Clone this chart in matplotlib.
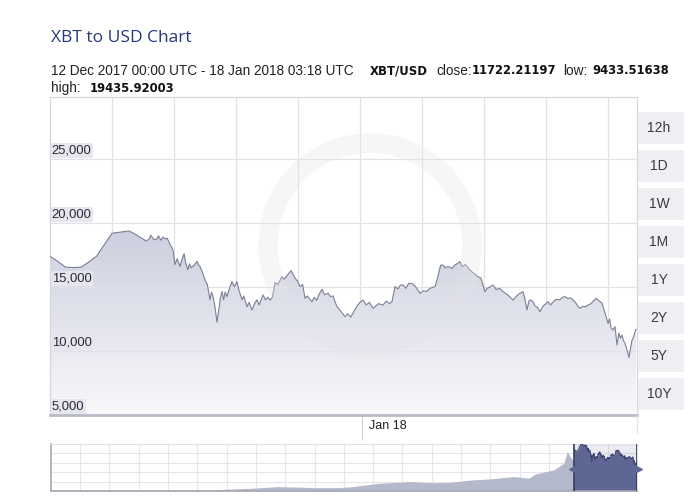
import matplotlib.pyplot as plt
from matplotlib.patches import Rectangle, Ellipse
from matplotlib.lines import Line2D
import numpy as np

# main series: days since 12 Dec 2017 00:00 UTC, XBT/USD price
days = [0.0, 0.5, 1.0, 1.5, 2.0, 2.5, 3.0, 3.5, 4.0, 4.6, 5.1, 5.6, 6.2, 6.4, 6.5, 6.7,
        6.9, 7.0, 7.15, 7.3, 7.45, 7.55, 7.7, 7.87, 7.95, 8.06, 8.2, 8.3, 8.39, 8.5, 8.65,
        8.75, 8.9, 9.0, 9.1, 9.3, 9.48, 9.6, 9.68, 9.85, 10.0, 10.15, 10.32, 10.42, 10.52,
        10.65, 10.77, 10.9, 11.0, 11.1, 11.2, 11.3, 11.42, 11.55, 11.74, 11.9, 12.06, 12.2,
        12.39, 12.5, 12.71, 12.85, 13.03, 13.2, 13.35, 13.5, 13.74, 13.9, 14.05, 14.19,
        14.35, 14.52, 14.7, 14.97, 15.1, 15.3, 15.55, 15.7, 15.81, 15.95, 16.13, 16.3,
        16.45, 16.6, 16.9, 17.05, 17.2, 17.35, 17.55, 17.7, 17.94, 18.1, 18.26, 18.4,
        18.52, 18.7, 19.03, 19.2, 19.4, 19.55, 19.8, 20.0, 20.19, 20.4, 20.6, 20.84, 21.0,
        21.2, 21.48, 21.7, 21.9, 22.06, 22.26, 22.45, 22.6, 22.77, 22.95, 23.15, 23.42,
        23.6, 23.87, 24.1, 24.3, 24.52, 24.84, 25.0, 25.2, 25.35, 25.5, 25.7, 25.94, 26.1,
        26.3, 26.45, 26.6, 26.8, 27.1, 27.3, 27.61, 27.8, 28.06, 28.2, 28.4, 28.58, 28.8,
        29.0, 29.23, 29.4, 29.6, 29.87, 30.1, 30.3, 30.52, 30.65, 30.77, 30.9, 31.0, 31.16,
        31.3, 31.45, 31.61, 31.8, 32.0, 32.13, 32.3, 32.5, 32.71, 32.9, 33.05, 33.23, 33.4,
        33.6, 33.74, 33.9, 34.05, 34.19, 34.4, 34.55, 34.71, 34.9, 35.05, 35.23, 35.4,
        35.61, 35.8, 36.0, 36.1, 36.2, 36.32, 36.45, 36.58, 36.7, 36.8, 36.9, 37.0, 37.1,
        37.2, 37.35, 37.45, 37.55, 37.65, 37.72, 37.8]
prices = [17400, 17000, 16550, 16520, 16540, 16950, 17400, 18300, 19200, 19300, 19380,
          19050, 18600, 18750, 19050, 18700, 18750, 19000, 18650, 18900, 18750, 18820,
          18450, 18050, 17800, 16750, 17200, 16900, 16600, 17100, 17600, 16900, 16350,
          16800, 16500, 16700, 17000, 16700, 16600, 16100, 15550, 15200, 14000, 14600,
          14250, 13400, 12250, 13300, 14200, 14650, 14000, 14600, 14250, 14800, 15420,
          15000, 15420, 14700, 14000, 14300, 13450, 13800, 13200, 13700, 14000, 13600,
          14380, 14000, 14200, 13980, 14200, 15340, 15200, 15810, 15600, 15900, 16280,
          15950, 15680, 15500, 15030, 15200, 14120, 14300, 13850, 14200, 13950, 14400,
          14820, 14400, 14510, 14250, 14300, 13800, 13460, 13200, 12680, 12900, 12650,
          12970, 13500, 13800, 13980, 13600, 13800, 13340, 13500, 13700, 13590, 13900,
          13700, 13850, 15030, 14850, 15150, 15160, 14900, 15300, 15230, 15000, 14510,
          14700, 14650, 14900, 15030, 15700, 16700, 16720, 16500, 16600, 16460, 16700,
          16850, 16980, 16600, 16750, 16330, 16100, 15810, 15700, 14630, 14900, 15000,
          15160, 14800, 14900, 14630, 14500, 14300, 13980, 14300, 14500, 14630, 14000,
          13200, 13900, 14000, 13850, 13500, 13400, 13070, 13500, 13700, 13850, 13600,
          13900, 14040, 14000, 14200, 14240, 14100, 14150, 13980, 13800, 13500, 13340,
          13500, 13450, 13590, 13700, 13900, 14120, 13950, 13730, 13000, 12160, 12500,
          11800, 11640, 11900, 10470, 11400, 11000, 11250, 10800, 10600, 10200, 9500,
          10200, 10860, 11100, 11400, 11700]

# navigator history before the selected range (days relative to 12 Dec 2017)
nav_days = [-314, -290, -264, -240, -224, -210, -194, -178, -165, -157, -141, -133, -117,
            -98, -87, -76, -61, -50, -36, -27, -23, -12, -6, -4, -2, 0]
nav_prices = [350, 300, 280, 300, 320, 700, 1120, 1810, 1600, 1400, 1400, 1810, 3200,
              3900, 3480, 3480, 4600, 5020, 6000, 5300, 7100, 8780, 11580, 16430, 14000, 12270]

y_ticks = [5000, 10000, 15000, 20000, 25000]
range_buttons = ['12h', '1D', '1W', '1M', '1Y', '2Y', '5Y', '10Y']

W, H = 700, 504
fig = plt.figure(figsize=(7, 5.04), dpi=100)
fig.patch.set_facecolor('white')

def fx(px):
    return px / W

def fy(py):
    return 1 - py / H

# ---- header text
fig.text(fx(51), fy(38), 'XBT to USD Chart', fontsize=12.5, color='#26397a',
         family='Open Sans', va='center')
reg = dict(fontsize=9.8, color='#222222', family='Liberation Sans', va='center')
bold = dict(fontsize=8.4, color='#111111', family='DejaVu Sans', weight='bold', va='center')
fig.text(fx(51), fy(71), '12 Dec 2017 00:00 UTC - 18 Jan 2018 03:18 UTC', **reg)
fig.text(fx(370), fy(71), 'XBT/USD', **bold)
fig.text(fx(436), fy(71), 'close:', **reg)
fig.text(fx(472), fy(71), '11722.21197', **bold)
fig.text(fx(563), fy(71), 'low:', **reg)
fig.text(fx(592), fy(71), '9433.51638', **bold)
fig.text(fx(51), fy(88), 'high:', **reg)
fig.text(fx(90), fy(88), '19435.92003', **bold)

# ---- main chart
x0, x1, ytop, ybot = 50, 637, 97, 415
ax = fig.add_axes([fx(x0), fy(ybot), fx(x1 - x0), (ybot - ytop) / H])
xmax = 37.87
ax.set_xlim(0, xmax)
ax.set_ylim(5000, 29844)

# gradient fill under the line
poly = ax.fill_between(days, prices, 5000, color='none', lw=0)
grad = np.linspace(0, 1, 256).reshape(-1, 1)
top_c = np.array([0.79, 0.80, 0.865])
bot_c = np.array([0.975, 0.975, 0.985])
img = top_c * grad[..., None] + bot_c * (1 - grad[..., None])
im = ax.imshow(img, extent=[0, xmax, 5000, 20500], origin='lower', aspect='auto',
               zorder=1)
im.set_clip_path(poly.get_paths()[0], transform=ax.transData)
ax.plot(days, prices, color='#7b7f95', lw=0.8, zorder=3)

# faint watermark ring
ring = Ellipse((fx(370), fy(245)), 204 / W, 204 / H, transform=fig.transFigure,
               fill=False, ec='#e4e4ea', lw=14, alpha=0.3, zorder=2)
fig.patches.append(ring)

for gx in range(4, 37, 4):
    ax.axvline(gx, color='#e2e2e6', lw=0.9, zorder=0.5)
for gy in y_ticks[1:]:
    ax.axhline(gy, color='#e2e2e6', lw=0.9, zorder=2.5)
for gy in y_ticks:
    ax.text(0.12, gy + 200, f'{gy:,}', fontsize=9.4, color='#2a2a35', va='bottom',
            ha='left', family='Liberation Sans', zorder=4,
            bbox=dict(boxstyle='square,pad=0.1', fc='#e5e6ee', ec='none'))

ax.set_xticks([20.1])
ax.set_xticklabels([])
ax.tick_params(axis='x', length=17, width=0.8, color='#cfcfd6')
ax.set_yticks([])
ax.annotate('Jan 18', xy=(20.1, 0), xycoords=('data', 'axes fraction'),
            xytext=(5, -8), textcoords='offset points', va='center', ha='left',
            fontsize=9, family='Liberation Sans', color='#222222')
for side in ['top', 'left', 'right']:
    ax.spines[side].set_color('#d6d6dc')
    ax.spines[side].set_linewidth(0.9)
ax.spines['bottom'].set_color('#b9bac8')
ax.spines['bottom'].set_linewidth(2)
fig.lines.append(Line2D([fx(x1), fx(x1)], [fy(ybot), fy(433)], transform=fig.transFigure,
                        color='#e4e4e8', lw=0.9))

# ---- range buttons
for i, lab in enumerate(range_buttons):
    cy = 128 + 38 * i
    fig.patches.append(Rectangle((fx(638), fy(cy + 16)), fx(46), 32 / H,
                                 transform=fig.transFigure, fc='#efeff3', ec='none'))
    fig.text(fx(659), fy(cy), lab, fontsize=10, color='#3a3a44', ha='center',
             va='center', family='Liberation Sans')

# ---- navigator
nav = fig.add_axes([fx(50.7), fy(491), fx(637 - 50.7), 47 / H])
nav.set_xlim(-314, xmax)
nav.set_ylim(0, 19500)
for gx in np.linspace(-314, xmax, 21)[1:-1]:
    nav.axvline(gx, color='#e6e6ea', lw=0.8, zorder=0)
for gy in np.linspace(0, 19500, 6)[1:-1]:
    nav.axhline(gy, color='#e6e6ea', lw=0.8, zorder=0)
nav.fill_between(nav_days, nav_prices, 0, color='#b4b8cb', lw=0, zorder=1)
nav.fill_between(days, prices, 0, color='#5e6794', lw=0, zorder=2)
nav.plot(days, prices, color='#3d4470', lw=0.8, zorder=3)
nav.axvspan(0, xmax, color='#5e6794', alpha=0.12, zorder=1.5)
for ex in [0, xmax]:
    nav.axvline(ex, color='#2f3760', lw=1.2, zorder=4)
nav.plot([0], [9000], marker='<', ms=7, color='#5e6794', zorder=5, clip_on=False)
nav.plot([xmax], [9000], marker='>', ms=7, color='#5e6794', zorder=5, clip_on=False)
nav.set_xticks([])
nav.set_yticks([])
for side in ['top', 'right']:
    nav.spines[side].set_color('#e0e0e6')
for side in ['left', 'bottom']:
    nav.spines[side].set_color('#a8a8b6')
    nav.spines[side].set_linewidth(1.2)

fig.savefig('out.png', dpi=100)
